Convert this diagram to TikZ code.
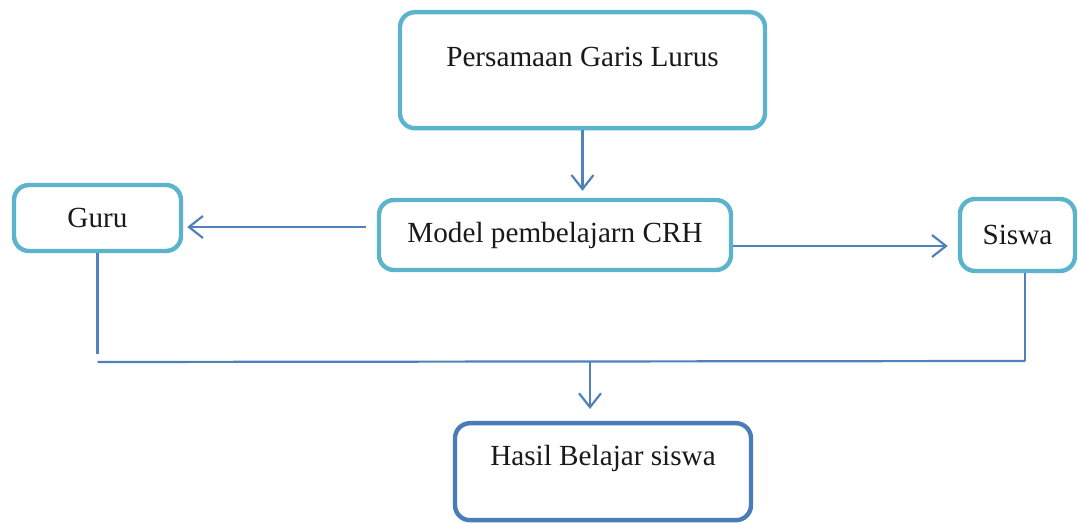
\documentclass[tikz,border=0pt]{standalone}
\usepackage{fontspec}
\setmainfont{Liberation Serif}
\usetikzlibrary{arrows.meta}
\definecolor{boxteal}{RGB}{92,179,204}
\definecolor{linkblue}{RGB}{79,129,189}
\definecolor{resultblue}{RGB}{74,124,186}
\begin{document}
\begin{tikzpicture}[x=0.5pt, y=-0.5pt, font=\fontsize{14.6}{17}\selectfont]
      \tikzset{box/.style={draw=boxteal, line width=2.2pt, rounded corners=7.5pt, inner sep=0pt, fill=white, text=black!90},
               link/.style={draw=linkblue, line width=1.1pt},
               arr/.style={link, -{Straight Barb[length=7pt, width=11pt, line width=1.1pt]}}}
      \useasboundingbox (0,0) rectangle (1078,523);

      % Topic box, text sits high in the box
      \node[box, anchor=north, minimum width=182.5pt, text height=27pt, text depth=31pt] (topic) at (582.5,10) {Persamaan Garis Lurus};

      % Middle row
      \node[box, minimum width=176pt, minimum height=35pt] (model) at (555,235) {Model pembelajarn CRH};
      \node[box, minimum width=83.5pt, minimum height=33pt] (guru) at (97.5,218) {Guru};
      \node[box, minimum width=57.5pt, minimum height=36pt] (siswa) at (1017.5,235) {Siswa};

      % Result box
      \node[box, draw=resultblue, anchor=north, minimum width=148pt, text height=21pt, text depth=27.5pt] (hasil) at (603,421) {Hasil Belajar siswa};

      % Arrows out of the model
      \draw[arr, shorten >=3.5pt] (topic.south) -- (topic.south |- model.north);
      \draw[arr, shorten <=5.5pt, shorten >=2pt] ([yshift=4pt]model.west) -- ([yshift=-4.5pt]guru.east);
      \draw[arr, shorten >=5pt] ([yshift=-5.5pt]model.east) -- ([yshift=-5.5pt]siswa.west);

      % Joining line under the row
      \coordinate (gend) at (97.5,354);
      \coordinate (jl) at (97.5,362);
      \coordinate (jr) at (1025,361);
      \coordinate (jm) at (590,362);
      \draw[link] (guru.south) -- (gend);
      \draw[link] ([xshift=3.75pt]siswa.south) -- (jr);
      \draw[link] (jl) -- (jr);

      % Down to the result
      \draw[arr, shorten >=6pt] (jm) -- (jm |- hasil.north);

    \end{tikzpicture}
\end{document}
